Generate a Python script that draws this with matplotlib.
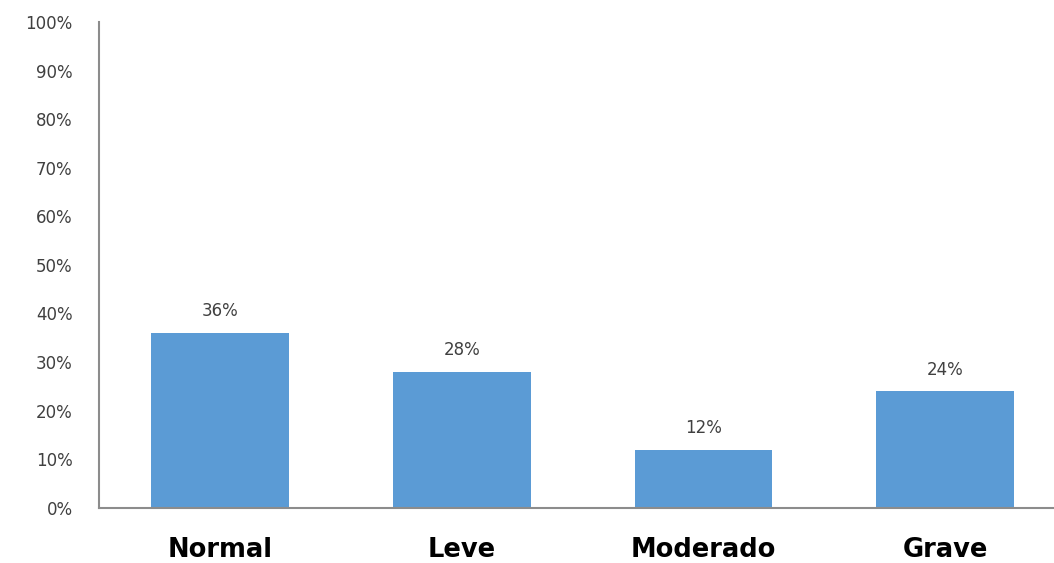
import numpy as np
import matplotlib.pyplot as plt

categorias = ["Normal", "Leve", "Moderado", "Grave"]
porcentajes = [36, 28, 12, 24]
yticks = list(range(0, 101, 10))

fig = plt.figure(figsize=(10.54, 5.63), dpi=100)
ax = fig.add_axes([0.094, 0.098, 0.906, 0.863])

x = np.arange(len(categorias))
barras = ax.bar(x, porcentajes, width=0.57, color="#5B9BD5", zorder=2)

for b, v in zip(barras, porcentajes):
    ax.annotate(f"{v}%", (b.get_x() + b.get_width() / 2, b.get_height()),
                xytext=(0, 9), textcoords="offset points",
                ha="center", va="bottom", fontsize=12, color="#404040")

ax.set_xlim(-0.5, 3.45)
ax.set_ylim(0, 100)
ax.set_yticks(yticks)
ax.set_yticklabels([f"{t}%" for t in yticks], fontsize=12, color="#404040")
ax.set_xticks(x)
ax.set_xticklabels(categorias, fontsize=18.5, fontweight="bold", color="black")
ax.tick_params(axis="y", length=0, pad=19)
ax.tick_params(axis="x", length=0, pad=21)

for s in ["top", "right"]:
    ax.spines[s].set_visible(False)
for s in ["left", "bottom"]:
    ax.spines[s].set_color("#8C8C8C")
    ax.spines[s].set_linewidth(1.5)

fig.savefig("out.png", dpi=100)
